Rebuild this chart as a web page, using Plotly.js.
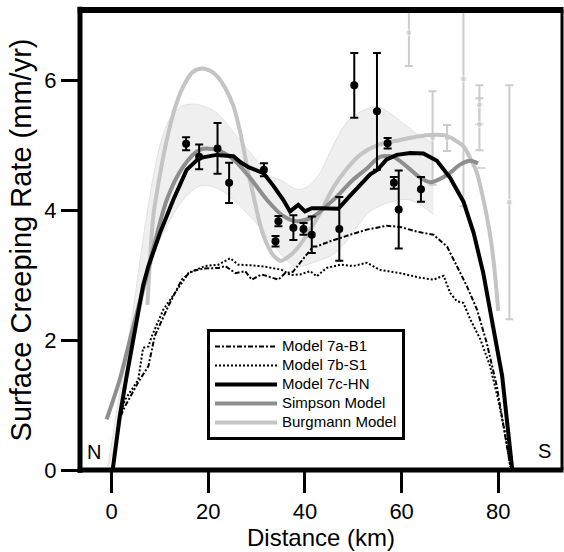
<!DOCTYPE html>
<html>
<head>
<meta charset="utf-8">
<script src="https://cdn.plot.ly/plotly-3.0.1.min.js"></script>
<style>html,body{margin:0;padding:0;background:#fff;}#chart{width:564px;height:552px;}</style>
</head>
<body>
<div id="chart"></div>
<script>
// ---- Model 7c-HN (solid black) ----
const hnX = [0.2,1.7,3.1,4.8,6.5,7.6,10.0,12.75,15.5,18.1,21.7,25.2,26.6,28.3,31.4,33.5,35.5,36.9,38.6,40.0,41.4,43.1,46.9,49.3,51.4,53.5,55.0,56.9,59.0,61.8,64.5,67.3,70.0,72.8,74.9,76.9,78.7,80.8,82.9];
const hnY = [0.0,0.84,1.45,2.12,2.84,3.14,3.65,4.16,4.62,4.80,4.85,4.83,4.74,4.66,4.57,4.37,4.16,3.98,4.08,3.98,4.03,4.03,4.02,4.22,4.39,4.55,4.62,4.78,4.85,4.88,4.87,4.76,4.50,4.13,3.65,3.03,2.30,1.45,0.0];

// ---- Simpson Model (dark grey) ----
const simX = [-1.05,1.7,4.5,6.9,7.9,11.4,14.8,18.3,21.7,25.2,28.6,32.1,35.3,38.3,41.7,45.9,50.0,52.8,55.5,58.3,61.1,63.8,66.0,69.4,72.1,74.2,75.8];
const simY = [0.78,1.40,2.22,2.89,3.19,4.16,4.67,4.93,4.93,4.78,4.50,4.16,3.92,3.83,3.90,4.16,4.47,4.64,4.82,4.82,4.67,4.50,4.43,4.54,4.70,4.76,4.72];

// ---- Burgmann Model (light grey) ----
const burX = [7.4,8.6,10.0,11.4,13.0,14.8,16.7,18.6,20.2,21.7,23.5,25.2,26.6,28.0,29.4,30.7,32.0,33.5,35.0,36.9,38.5,40.4,43.1,45.9,48.7,51.4,55.0,59.7,63.0,66.6,69.0,71.0,72.8,74.2,75.6,76.5,77.6,78.7,79.4,80.0];
const burY = [2.54,3.90,4.55,5.08,5.55,5.90,6.12,6.18,6.15,6.07,5.88,5.60,5.20,4.67,4.20,3.78,3.50,3.30,3.22,3.30,3.42,3.62,3.95,4.35,4.64,4.85,5.00,5.08,5.13,5.16,5.15,5.08,4.98,4.80,4.57,4.30,3.92,3.42,2.95,2.45];

// ---- Model 7a-B1 (dash-dot) ----
const b1X = [0.2,0.7,1.4,2.75,5.5,7.6,8.9,11.7,14.5,16.6,19.0,22.1,23.5,25.6,27.6,29.0,31.0,34.5,35.9,37.5,39.0,41.7,42.4,45.2,49.3,52.8,56.9,59.7,63.1,66.6,69.4,71.4,73.5,75.6,77.6,79.7,81.1,82.5];
const b1Y = [0.0,0.26,0.75,0.98,1.35,1.60,2.06,2.52,2.93,3.06,3.10,3.11,3.14,3.03,3.06,2.93,3.01,2.93,3.03,3.05,3.19,3.44,3.44,3.52,3.62,3.70,3.76,3.74,3.67,3.62,3.44,3.14,2.83,2.47,1.96,1.29,0.67,0.05];

// ---- Model 7b-S1 (dotted) ----
const s1X = [0.2,0.7,1.4,2.75,5.5,6.5,7.6,8.3,10.7,13.1,15.9,19.3,22.1,24.5,26.2,29.0,31.7,35.2,37.0,39.0,41.1,42.4,44.5,47.3,50.0,52.8,55.5,59.7,63.8,66.6,68.7,70.0,71.4,72.8,74.2,76.3,78.3,80.0,81.4,82.5];
const s1Y = [0.0,0.26,0.75,1.08,1.39,1.88,1.90,2.06,2.47,2.73,3.03,3.14,3.16,3.26,3.16,3.15,3.13,3.08,3.00,3.01,3.06,2.98,3.11,3.16,3.14,3.19,3.08,3.03,2.96,2.93,2.99,2.73,2.60,2.57,2.32,2.01,1.60,1.08,0.57,0.05];

// ---- Uncertainty band ----
const bandUpX = [-0.8,2.0,4.5,6.0,7.2,8.7,10.0,12.0,14.5,17.0,19.0,21.7,25.2,29.3,33.0,35.3,38.3,40.3,43.1,45.2,49.1,53.2,55.0,58.0,62.9,66.6];
const bandUpY = [0.05,1.35,2.50,3.30,3.90,4.55,5.00,5.40,5.60,5.63,5.60,5.50,5.20,4.83,4.52,4.45,4.32,4.35,4.57,4.90,5.39,5.57,5.59,5.47,5.19,5.03];
const bandLoX = [-0.8,1.5,3.5,5.5,7.5,9.5,11.4,14.8,18.3,21.7,25.2,29.3,32.0,35.3,37.5,39.4,42.0,46.3,50.4,53.0,56.0,61.5,66.6];
const bandLoY = [0.05,0.60,1.50,2.30,2.95,3.45,3.75,4.16,4.37,4.34,4.16,3.85,3.60,3.30,3.15,3.14,3.20,3.34,3.70,3.95,4.08,4.16,3.93];

// ---- Observed creep rates (black) ----
const obsX = [15.4,18.1,21.9,24.3,31.5,34.5,33.9,37.6,39.7,41.4,47.1,50.2,54.9,57.1,58.4,59.4,64.0];
const obsY = [5.02,4.82,4.95,4.42,4.62,3.83,3.52,3.73,3.71,3.62,3.71,5.92,5.52,5.03,4.42,4.01,4.32];
const obsErr = [0.10,0.19,0.39,0.31,0.10,0.08,0.08,0.19,0.09,0.28,0.49,0.50,0.90,0.08,0.09,0.60,0.19];

// ---- Other observations (light grey) ----
const othX = [61.5,66.4,69.4,72.8,76.1,76.1,76.5,82.3];
const othY = [6.73,5.11,5.11,6.02,5.62,5.32,4.65,4.12];
const othErr = [0.51,0.72,0.20,1.96,0.30,0.40,0,1.80];
const othSize = [6,6,6,6,6,6,3,6];

// ---- Axis ticks ----
const xTicks = [0,20,40,60,80];
const yTicks = [0,2,4,6];

const FONT = 'Liberation Sans, Arial, Helvetica, sans-serif';
const bandEdge = '#dcdcdc';
const lg = (s) => "<span style='font-size:15px'>" + s + "</span>";

const traces = [
  {x: bandLoX, y: bandLoY, mode: 'lines', line: {color: bandEdge, width: 0.8, shape: 'spline'}, showlegend: false, hoverinfo: 'skip'},
  {x: bandUpX, y: bandUpY, mode: 'lines', line: {color: bandEdge, width: 0.8, shape: 'spline'}, fill: 'tonexty', fillcolor: '#efefef', showlegend: false, hoverinfo: 'skip'},
  {x: othX, y: othY, mode: 'markers', marker: {color: '#cccccc', size: othSize},
   error_y: {type: 'data', array: othErr, visible: true, color: '#cccccc', thickness: 2, width: 4}, showlegend: false},
  {x: s1X, y: s1Y, mode: 'lines', name: lg('Model 7b-S1'), line: {color: '#000', width: 2, dash: '2px,2px'}, legendrank: 2},
  {x: b1X, y: b1Y, mode: 'lines', name: lg('Model 7a-B1'), line: {color: '#000', width: 2, dash: '5px,2px,2px,2px'}, legendrank: 1},
  {x: burX, y: burY, mode: 'lines', name: lg('Burgmann Model'), line: {color: '#c4c4c4', width: 4, shape: 'spline', smoothing: 0.8}, legendrank: 5},
  {x: simX, y: simY, mode: 'lines', name: lg('Simpson Model'), line: {color: '#8e8e8e', width: 4, shape: 'spline', smoothing: 0.8}, legendrank: 4},
  {x: hnX, y: hnY, mode: 'lines', name: lg('Model 7c-HN'), line: {color: '#000', width: 4}, legendrank: 3},
  {x: obsX, y: obsY, mode: 'markers', marker: {color: '#000', size: 8},
   error_y: {type: 'data', array: obsErr, visible: true, color: '#000', thickness: 2, width: 4}, showlegend: false}
];

const layout = {
  width: 564, height: 552,
  margin: {l: 80, r: 2, t: 10, b: 82},
  paper_bgcolor: '#fff', plot_bgcolor: '#fff',
  font: {family: FONT, color: '#000'},
  showlegend: true,
  xaxis: {
    range: [-6.56, 93.19], tickvals: xTicks, ticktext: xTicks.map(String),
    ticks: 'outside', ticklen: 22, tickwidth: 3, tickcolor: '#000',
    showline: false, showgrid: false, zeroline: false,
    tickfont: {family: FONT, size: 22, color: '#000'},
    title: {text: 'Distance (km)', font: {family: FONT, size: 24, color: '#000'}, standoff: 1}
  },
  yaxis: {
    range: [0, 7.08], tickvals: yTicks, ticktext: yTicks.map(String),
    ticks: 'outside', ticklen: 18, tickwidth: 3, tickcolor: '#000',
    showline: false, showgrid: false, zeroline: false,
    tickfont: {family: FONT, size: 22, color: '#000'},
    title: {text: 'Surface Creeping Rate (mm/yr)', font: {family: FONT, size: 29, color: '#000'}, standoff: 4}
  },
  legend: {
    x: 0.2635, y: 0.3065, xanchor: 'left', yanchor: 'top',
    traceorder: 'normal',
    bgcolor: '#fff', bordercolor: '#000', borderwidth: 3,
    font: {family: FONT, size: 12, color: '#000'},
    itemwidth: 62, tracegroupgap: 0
  },
  shapes: [
    {type: 'line', xref: 'paper', yref: 'paper', x0: 0, x1: 0, y0: -0.006, y1: 1.007, line: {color: '#000', width: 5}},
    {type: 'line', xref: 'paper', yref: 'paper', x0: -0.005, x1: 1.003, y0: 0, y1: 0, line: {color: '#000', width: 5}},
    {type: 'line', xref: 'paper', yref: 'paper', x0: -0.005, x1: 1.003, y0: 1, y1: 1, line: {color: '#000', width: 6}},
    {type: 'line', xref: 'paper', yref: 'paper', x0: 1, x1: 1, y0: 0, y1: 1, line: {color: '#000', width: 3}}
  ],
  annotations: [
    {text: 'N', xref: 'paper', yref: 'paper', x: (94 - 80) / 482, y: (470 - 452) / 460, xanchor: 'center', yanchor: 'middle', showarrow: false, font: {family: FONT, size: 20, color: '#000'}},
    {text: 'S', xref: 'paper', yref: 'paper', x: (544 - 80) / 482, y: (470 - 451) / 460, xanchor: 'center', yanchor: 'middle', showarrow: false, font: {family: FONT, size: 20, color: '#000'}}
  ]
};

Plotly.newPlot('chart', traces, layout, {displayModeBar: false, staticPlot: true});
</script>
</body>
</html>
